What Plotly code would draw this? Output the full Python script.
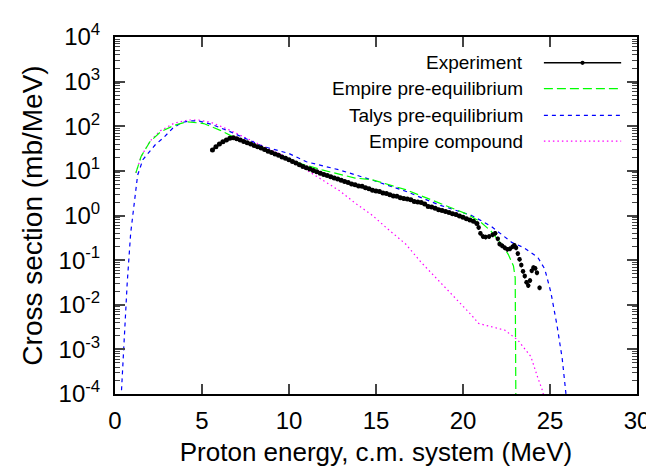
import plotly.graph_objects as go

# ---------------- data ----------------
exp_energy = [5.6, 5.8, 6.0, 6.2, 6.4, 6.6, 6.8, 7.0, 7.2, 7.4, 7.6, 7.8, 8.0, 8.2, 8.4, 8.6, 8.8,
              9.0, 9.2, 9.4, 9.6, 9.8, 10.0, 10.2, 10.4, 10.6, 10.8, 11.0, 11.2, 11.4, 11.6, 11.8,
              12.0, 12.2, 12.4, 12.6, 12.8, 13.0, 13.2, 13.4, 13.6, 13.8, 14.0, 14.2, 14.4, 14.6,
              14.8, 15.0, 15.2, 15.4, 15.6, 15.8, 16.0, 16.2, 16.4, 16.6, 16.8, 17.0, 17.2, 17.4,
              17.6, 17.8, 18.0, 18.2, 18.4, 18.6, 18.8, 19.0, 19.2, 19.4, 19.6, 19.8, 20.0, 20.2,
              20.4, 20.6, 20.8]
exp_xs = [29.5, 34.7, 39.8, 44.7, 49.0, 53.7, 55.0, 52.5, 49.0, 45.7, 42.7, 39.8, 37.2, 34.7, 32.4,
          30.2, 27.5, 25.7, 24.0, 22.4, 20.4, 19.1, 17.8, 16.2, 15.1, 13.8, 12.6, 11.7, 11.0, 10.2,
          9.5, 8.9, 8.3, 7.9, 7.4, 6.9, 6.6, 6.2, 5.8, 5.5, 5.1, 4.9, 4.6, 4.5, 4.2, 4.0, 3.7, 3.55,
          3.45, 3.2, 3.1, 2.9, 2.75, 2.7, 2.5, 2.4, 2.35, 2.25, 2.05, 2.0, 1.95, 1.8, 1.6, 1.55,
          1.45, 1.35, 1.3, 1.23, 1.17, 1.1, 1.05, 0.98, 0.91, 0.85, 0.79, 0.74, 0.66]

exp_tail_energy = [20.9, 21.0, 21.15, 21.3, 21.5, 21.7, 21.85, 22.0, 22.1, 22.25, 22.4, 22.55, 22.7,
                   22.85, 22.95, 23.05, 23.15, 23.25, 23.35, 23.45, 23.55, 23.65, 23.75, 23.85,
                   23.95, 24.05, 24.15, 24.25, 24.4]
exp_tail_xs = [0.54, 0.40, 0.34, 0.33, 0.34, 0.37, 0.40, 0.30, 0.23, 0.21, 0.19, 0.175, 0.18, 0.20,
               0.215, 0.19, 0.14, 0.105, 0.078, 0.056, 0.044, 0.032, 0.027, 0.035, 0.058, 0.068,
               0.066, 0.052, 0.024]

empire_pe_energy = [1.2, 1.5, 2.0, 2.6, 3.4, 4.15, 5.1, 6.05, 6.8, 8.1, 10.0, 11.0, 11.9, 13.8,
                    14.8, 16.7, 18.6, 19.5, 20.3, 21.06, 21.6, 22.2, 22.6, 22.9, 23.0, 23.05]
empire_pe_xs = [9.0, 21.0, 44.7, 74.0, 105.0, 126.0, 115.0, 81.0, 57.5, 34.7, 17.4, 13.2, 10.5,
                6.9, 6.3, 3.8, 1.9, 1.35, 1.05, 0.69, 0.45, 0.23, 0.135, 0.074, 0.04, 0.00001]

talys_pe_energy = [0.35, 0.5, 0.7, 0.9, 1.1, 1.3, 1.6, 2.0, 2.3, 2.8, 3.3, 3.8, 4.3, 4.8, 5.5,
                   6.5, 7.5, 8.5, 10.0, 11.0, 12.9, 14.8, 16.7, 18.6, 20.5, 21.6, 22.8, 23.5,
                   24.3, 24.7, 25.05, 25.4, 25.7, 25.9, 26.0]
talys_pe_xs = [0.00008, 0.001, 0.03, 0.4, 2.0, 8.0, 17.8, 28.2, 38.0, 56.0, 89.0, 120.0, 132.0,
               132.0, 112.0, 79.0, 52.5, 35.5, 24.5, 16.0, 10.5, 6.2, 3.5, 1.74, 1.0, 0.58, 0.25,
               0.19, 0.115, 0.063, 0.019, 0.0035, 0.00063, 0.0001, 0.00005]

empire_cn_energy = [1.2, 1.5, 2.0, 2.6, 3.4, 4.2, 4.8, 5.5, 6.5, 7.5, 8.5, 9.5, 10.0, 11.0, 11.9,
                    12.9, 13.8, 14.8, 15.7, 16.7, 17.6, 18.6, 19.5, 20.5, 20.9, 22.4, 23.15, 23.9,
                    24.3, 24.6, 24.7]
empire_cn_xs = [9.0, 21.0, 45.7, 79.0, 117.0, 138.0, 138.0, 123.0, 85.0, 56.0, 37.0, 24.0, 19.0,
                10.5, 6.3, 3.6, 1.9, 1.0, 0.49, 0.23, 0.089, 0.035, 0.0148, 0.0058, 0.0038,
                0.0027, 0.00162, 0.00069, 0.00023, 0.00011, 0.00005]

x_ticks = [0, 5, 10, 15, 20, 25, 30]
y_tick_exps = [-4, -3, -2, -1, 0, 1, 2, 3, 4]

legend_names = ["Experiment", "Empire pre-equilibrium", "Talys pre-equilibrium", "Empire compound"]

# ---------------- styles ----------------
FONT = "Liberation Sans, Arial, sans-serif"
TICK_FS = 24
XTITLE_FS = 26
YTITLE_FS = 28
KEY_FS = 19
GREEN = "#00ff00"
BLUE = "#0000ff"
MAGENTA = "#ff00ff"
DASH_GREEN = "9px,4px"
DASH_BLUE = "4px,4px"
DASH_MAG = "1.5px,3px"

fig = go.Figure()

fig.add_trace(go.Scatter(x=empire_cn_energy, y=empire_cn_xs, mode="lines",
                         line=dict(color=MAGENTA, width=1.2, dash=DASH_MAG), showlegend=False))
fig.add_trace(go.Scatter(x=talys_pe_energy, y=talys_pe_xs, mode="lines",
                         line=dict(color=BLUE, width=1.2, dash=DASH_BLUE), showlegend=False))
fig.add_trace(go.Scatter(x=empire_pe_energy, y=empire_pe_xs, mode="lines",
                         line=dict(color=GREEN, width=1.2, dash=DASH_GREEN), showlegend=False))
fig.add_trace(go.Scatter(x=exp_energy, y=exp_xs, mode="lines+markers",
                         line=dict(color="black", width=2.5),
                         marker=dict(color="black", size=5),
                         error_y=dict(type="percent", value=8, color="black", thickness=1.5, width=0),
                         showlegend=False))
fig.add_trace(go.Scatter(x=exp_tail_energy, y=exp_tail_xs, mode="markers",
                         marker=dict(color="black", size=4.5),
                         error_y=dict(type="percent", value=12, color="black", thickness=1.5, width=0),
                         showlegend=False))

# ---------------- manual gnuplot-style key ----------------
key_y = [1 - (52 - 26) / 360, 1 - (78 - 26) / 360, 1 - (105 - 26) / 360, 1 - (131 - 26) / 360]
key_text_x = (521 - 107) / 527
key_line_x0, key_line_x1 = (540 - 107) / 527, (618 - 107) / 527
key_styles = [("black", "solid", 1.5), (GREEN, DASH_GREEN, 1.2), (BLUE, DASH_BLUE, 1.2),
              (MAGENTA, DASH_MAG, 1.2)]
annotations = []
shapes = []
for name, yk, (col, dsh, w) in zip(legend_names, key_y, key_styles):
    annotations.append(dict(x=key_text_x, y=yk, xref="paper", yref="paper", text=name,
                            showarrow=False, xanchor="right", yanchor="middle",
                            font=dict(family=FONT, size=KEY_FS, color="black")))
    shapes.append(dict(type="line", xref="paper", yref="paper", x0=key_line_x0, x1=key_line_x1,
                       y0=yk, y1=yk, line=dict(color=col, width=w, dash=dsh)))
mid = (key_line_x0 + key_line_x1) / 2
shapes.append(dict(type="circle", xref="paper", yref="paper", x0=mid - 0.004, x1=mid + 0.004,
                   y0=key_y[0] - 0.006, y1=key_y[0] + 0.006, fillcolor="black",
                   line=dict(color="black", width=0)))

fig.update_layout(
    width=654, height=466,
    margin=dict(l=107, r=20, t=26, b=80),
    paper_bgcolor="white", plot_bgcolor="white",
    font=dict(family=FONT, size=TICK_FS, color="black"),
    showlegend=False,
    annotations=annotations,
    shapes=shapes,
    xaxis=dict(range=[0, 30], tickvals=x_ticks, ticks="inside", ticklen=10, tickwidth=1.5,
               showline=True, linecolor="black", linewidth=2, mirror="allticks",
               showgrid=False, zeroline=False, tickfont=dict(size=TICK_FS),
               ticklabelstandoff=4,
               title=dict(text="Proton energy, c.m. system (MeV)", standoff=10,
                          font=dict(family=FONT, size=XTITLE_FS))),
    yaxis=dict(type="log", range=[-4, 4],
               tickvals=[10 ** e for e in y_tick_exps],
               ticktext=["10<sup>%d</sup>" % e for e in y_tick_exps],
               ticks="inside", ticklen=10, tickwidth=1.5, tickfont=dict(size=TICK_FS),
               ticklabelstandoff=8,
               minor=dict(ticks="inside", ticklen=5, tickwidth=1, dtick="D1", showgrid=False),
               showline=True, linecolor="black", linewidth=2, mirror="allticks",
               showgrid=False, zeroline=False,
               title=dict(text="Cross section (mb/MeV)", standoff=8,
                          font=dict(family=FONT, size=YTITLE_FS))),
)

fig.write_html("out.html")
